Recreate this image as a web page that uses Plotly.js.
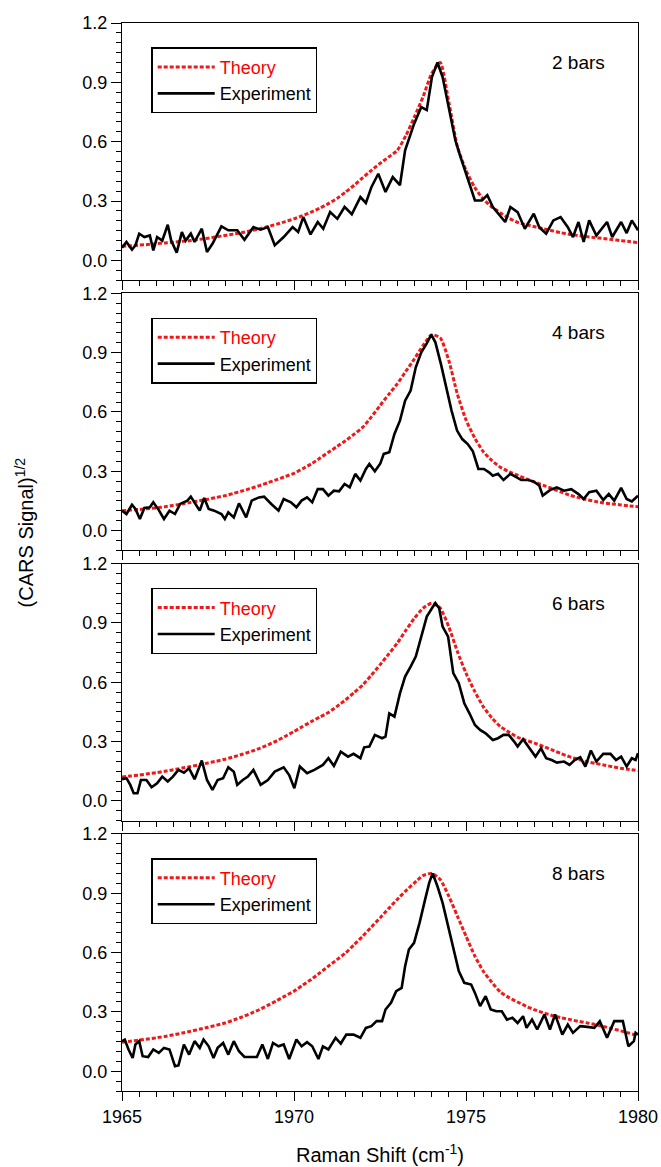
<!DOCTYPE html>
<html>
<head>
<meta charset="utf-8">
<script src="https://cdn.plot.ly/plotly-3.0.1.min.js"></script>
<style>html,body{margin:0;padding:0;background:#fff;}#chart{width:661px;height:1167px;}</style>
</head>
<body>
<div id="chart"></div>
<script>
// ---------- data ----------
const panelLabels = ['2 bars', '4 bars', '6 bars', '8 bars'];
const xTickVals = [1965, 1970, 1975, 1980];

// theory curves on a 0.25 cm-1 grid, 1965 .. 1980
const theoryX = [1965,1965.25,1965.5,1965.75,1966,1966.25,1966.5,1966.75,1967,1967.25,1967.5,1967.75,1968,1968.25,1968.5,1968.75,1969,1969.25,1969.5,1969.75,1970,1970.25,1970.5,1970.75,1971,1971.25,1971.5,1971.75,1972,1972.25,1972.5,1972.75,1973,1973.25,1973.5,1973.75,1974,1974.25,1974.5,1974.75,1975,1975.25,1975.5,1975.75,1976,1976.25,1976.5,1976.75,1977,1977.25,1977.5,1977.75,1978,1978.25,1978.5,1978.75,1979,1979.25,1979.5,1979.75,1980];
const theory2bar = [0.071,0.074,0.077,0.080,0.084,0.088,0.092,0.096,0.100,0.106,0.112,0.119,0.126,0.133,0.141,0.150,0.160,0.171,0.183,0.196,0.210,0.226,0.244,0.264,0.287,0.313,0.345,0.380,0.418,0.455,0.490,0.522,0.556,0.630,0.725,0.826,0.944,1.000,0.800,0.575,0.455,0.370,0.310,0.270,0.240,0.213,0.192,0.180,0.170,0.160,0.150,0.140,0.132,0.126,0.120,0.115,0.110,0.105,0.100,0.095,0.090];
const theory4bar = [0.101,0.104,0.107,0.111,0.115,0.121,0.128,0.135,0.143,0.151,0.159,0.168,0.177,0.189,0.201,0.214,0.228,0.243,0.258,0.274,0.290,0.313,0.337,0.366,0.396,0.425,0.455,0.488,0.523,0.575,0.632,0.688,0.742,0.805,0.868,0.935,0.990,0.975,0.860,0.690,0.560,0.470,0.400,0.355,0.320,0.298,0.280,0.262,0.245,0.229,0.213,0.196,0.180,0.168,0.157,0.148,0.140,0.135,0.130,0.125,0.121];
const theory6bar = [0.121,0.126,0.131,0.137,0.143,0.150,0.158,0.166,0.174,0.183,0.192,0.201,0.211,0.223,0.236,0.250,0.266,0.284,0.304,0.327,0.351,0.376,0.401,0.424,0.447,0.478,0.511,0.548,0.587,0.636,0.688,0.742,0.797,0.862,0.924,0.974,1.000,0.975,0.880,0.755,0.646,0.555,0.477,0.420,0.376,0.348,0.322,0.306,0.292,0.275,0.258,0.240,0.224,0.211,0.199,0.190,0.182,0.173,0.165,0.159,0.153];
const theory8bar = [0.147,0.152,0.157,0.163,0.169,0.176,0.184,0.193,0.202,0.212,0.222,0.233,0.244,0.259,0.275,0.293,0.312,0.334,0.357,0.381,0.405,0.434,0.464,0.497,0.531,0.564,0.598,0.640,0.683,0.729,0.775,0.822,0.868,0.912,0.952,0.989,1.000,0.969,0.885,0.784,0.683,0.585,0.506,0.450,0.400,0.372,0.350,0.328,0.310,0.295,0.282,0.271,0.262,0.253,0.245,0.236,0.226,0.215,0.204,0.192,0.180];

// experiment traces
const exp2barX = [1965.00,1965.13,1965.29,1965.39,1965.50,1965.65,1965.81,1965.91,1966.02,1966.17,1966.33,1966.43,1966.59,1966.74,1966.85,1967.00,1967.11,1967.32,1967.47,1967.63,1967.89,1968.09,1968.35,1968.56,1968.82,1969.03,1969.24,1969.44,1969.70,1969.96,1970.12,1970.27,1970.48,1970.69,1970.85,1971.05,1971.26,1971.47,1971.68,1971.93,1972.09,1972.25,1972.45,1972.66,1972.87,1973.08,1973.23,1973.49,1973.70,1973.86,1974.01,1974.17,1974.32,1974.53,1974.69,1974.84,1975.00,1975.15,1975.26,1975.46,1975.62,1975.78,1975.93,1976.14,1976.29,1976.50,1976.71,1976.97,1977.13,1977.33,1977.54,1977.75,1977.96,1978.11,1978.27,1978.42,1978.58,1978.79,1979.10,1979.25,1979.51,1979.67,1979.82,1980.00];
const exp2barY = [0.064,0.093,0.054,0.076,0.135,0.118,0.126,0.050,0.118,0.100,0.180,0.100,0.039,0.143,0.100,0.135,0.093,0.160,0.042,0.084,0.172,0.152,0.152,0.104,0.168,0.155,0.168,0.076,0.118,0.168,0.143,0.219,0.131,0.194,0.160,0.244,0.210,0.270,0.233,0.320,0.290,0.370,0.438,0.346,0.421,0.380,0.556,0.690,0.775,0.760,0.927,1.000,0.927,0.740,0.607,0.523,0.438,0.370,0.303,0.303,0.330,0.270,0.236,0.194,0.270,0.244,0.160,0.236,0.168,0.135,0.202,0.219,0.168,0.118,0.194,0.093,0.202,0.126,0.194,0.118,0.194,0.138,0.202,0.152];

const exp4barX = [1965.00,1965.13,1965.29,1965.39,1965.52,1965.65,1965.81,1965.91,1966.07,1966.22,1966.38,1966.54,1966.69,1966.90,1967.00,1967.16,1967.26,1967.39,1967.52,1967.68,1967.89,1967.99,1968.09,1968.25,1968.40,1968.61,1968.77,1968.98,1969.13,1969.34,1969.55,1969.70,1969.91,1970.07,1970.22,1970.38,1970.53,1970.69,1970.84,1971.00,1971.16,1971.31,1971.47,1971.62,1971.78,1971.93,1972.09,1972.19,1972.35,1972.51,1972.61,1972.77,1972.92,1973.08,1973.23,1973.39,1973.54,1973.70,1973.86,1973.99,1974.11,1974.27,1974.43,1974.58,1974.74,1974.89,1975.05,1975.20,1975.36,1975.52,1975.67,1975.78,1975.93,1976.09,1976.29,1976.45,1976.61,1976.81,1976.97,1977.13,1977.23,1977.44,1977.64,1977.85,1978.06,1978.27,1978.42,1978.58,1978.79,1978.99,1979.15,1979.31,1979.51,1979.67,1979.82,1980.00];
const exp4barY = [0.101,0.084,0.131,0.110,0.059,0.115,0.118,0.143,0.104,0.059,0.101,0.084,0.135,0.152,0.172,0.131,0.101,0.165,0.110,0.101,0.084,0.059,0.093,0.067,0.138,0.067,0.152,0.168,0.172,0.135,0.101,0.160,0.143,0.118,0.152,0.168,0.143,0.210,0.210,0.177,0.202,0.199,0.236,0.219,0.287,0.253,0.312,0.337,0.300,0.340,0.388,0.396,0.489,0.556,0.657,0.708,0.826,0.902,0.947,0.991,0.952,0.843,0.725,0.607,0.506,0.463,0.438,0.401,0.312,0.312,0.295,0.278,0.287,0.256,0.287,0.270,0.256,0.256,0.248,0.228,0.177,0.205,0.219,0.202,0.210,0.185,0.160,0.194,0.202,0.155,0.185,0.152,0.216,0.160,0.148,0.177];

const exp6barX = [1965.00,1965.13,1965.24,1965.34,1965.45,1965.55,1965.71,1965.86,1966.02,1966.17,1966.33,1966.48,1966.64,1966.80,1966.95,1967.11,1967.32,1967.47,1967.63,1967.78,1967.94,1968.09,1968.25,1968.35,1968.51,1968.66,1968.82,1969.03,1969.24,1969.44,1969.70,1969.86,1970.01,1970.17,1970.38,1970.59,1970.84,1971.00,1971.16,1971.36,1971.57,1971.73,1971.93,1972.04,1972.19,1972.35,1972.56,1972.66,1972.77,1972.92,1973.08,1973.23,1973.39,1973.54,1973.70,1973.86,1974.01,1974.11,1974.22,1974.32,1974.48,1974.63,1974.79,1974.95,1975.10,1975.26,1975.41,1975.57,1975.78,1975.93,1976.09,1976.24,1976.40,1976.50,1976.66,1976.81,1977.02,1977.18,1977.33,1977.49,1977.64,1977.85,1978.01,1978.16,1978.32,1978.47,1978.63,1978.79,1978.99,1979.20,1979.36,1979.51,1979.67,1979.82,1979.93,1980.00];
const exp6barY = [0.110,0.115,0.081,0.039,0.039,0.106,0.106,0.069,0.089,0.123,0.098,0.123,0.157,0.143,0.165,0.110,0.204,0.106,0.056,0.106,0.115,0.170,0.148,0.081,0.106,0.123,0.157,0.081,0.106,0.148,0.170,0.131,0.064,0.174,0.140,0.157,0.182,0.216,0.177,0.249,0.224,0.238,0.216,0.271,0.275,0.334,0.317,0.325,0.443,0.426,0.544,0.629,0.679,0.730,0.831,0.932,0.974,1.000,0.974,0.881,0.831,0.646,0.595,0.494,0.443,0.384,0.359,0.342,0.308,0.317,0.334,0.334,0.300,0.275,0.312,0.275,0.224,0.266,0.216,0.207,0.194,0.199,0.182,0.207,0.221,0.174,0.255,0.199,0.238,0.238,0.207,0.224,0.174,0.216,0.207,0.241];

const exp8barX = [1965.00,1965.08,1965.19,1965.31,1965.39,1965.50,1965.60,1965.76,1965.91,1966.07,1966.22,1966.38,1966.54,1966.64,1966.80,1966.95,1967.11,1967.26,1967.37,1967.52,1967.66,1967.78,1967.94,1968.09,1968.25,1968.40,1968.56,1968.72,1968.92,1969.08,1969.24,1969.39,1969.55,1969.70,1969.86,1970.07,1970.22,1970.38,1970.53,1970.71,1970.84,1971.00,1971.21,1971.36,1971.52,1971.73,1971.93,1972.09,1972.25,1972.40,1972.56,1972.66,1972.82,1972.97,1973.13,1973.23,1973.34,1973.49,1973.65,1973.80,1973.93,1974.03,1974.17,1974.32,1974.48,1974.63,1974.79,1974.95,1975.15,1975.26,1975.41,1975.57,1975.72,1975.88,1976.04,1976.19,1976.35,1976.50,1976.66,1976.76,1976.92,1977.07,1977.28,1977.44,1977.59,1977.80,1977.96,1978.11,1978.32,1978.53,1978.73,1978.89,1979.10,1979.31,1979.56,1979.72,1979.88,1979.93,1980.00];
const exp8barY = [0.152,0.160,0.110,0.067,0.135,0.152,0.076,0.072,0.110,0.093,0.118,0.110,0.025,0.029,0.135,0.084,0.152,0.118,0.160,0.126,0.067,0.118,0.143,0.084,0.152,0.101,0.072,0.072,0.072,0.135,0.062,0.143,0.126,0.135,0.062,0.160,0.126,0.147,0.126,0.062,0.126,0.110,0.169,0.140,0.185,0.185,0.169,0.219,0.228,0.253,0.253,0.312,0.346,0.405,0.421,0.531,0.615,0.649,0.750,0.860,0.952,1.000,0.935,0.851,0.733,0.632,0.506,0.447,0.438,0.396,0.329,0.379,0.312,0.303,0.303,0.261,0.270,0.244,0.278,0.219,0.261,0.211,0.287,0.211,0.287,0.185,0.236,0.194,0.228,0.224,0.219,0.253,0.169,0.253,0.253,0.126,0.152,0.194,0.185];

// ---------- build ----------
const FONT = 'Liberation Sans, Arial, Helvetica, sans-serif';
const theorySets = [theory2bar, theory4bar, theory6bar, theory8bar];
const expX = [exp2barX, exp4barX, exp6barX, exp8barX];
const expY = [exp2barY, exp4barY, exp6barY, exp8barY];

const gap = 0.0123;
const h = (1 - 3 * gap) / 4;
const traces = [];
const layout = {
  width: 661, height: 1167,
  margin: {l: 122, r: 23, t: 23, b: 76},
  paper_bgcolor: '#ffffff', plot_bgcolor: '#ffffff',
  font: {family: FONT, size: 18, color: '#000'},
  showlegend: true,
  annotations: [],
};

for (let i = 0; i < 4; i++) {
  const n = i === 0 ? '' : String(i + 1);
  const legName = 'legend' + n;
  traces.push({
    x: theoryX, y: theorySets[i], xaxis: 'x' + n, yaxis: 'y' + n,
    type: 'scatter', mode: 'lines', name: '<span style="color:#ff0000">Theory</span>',
    line: {color: '#f01818', width: 3, dash: '4px,2px', shape: 'spline', smoothing: 0.6},
    legend: legName,
  });
  traces.push({
    x: expX[i], y: expY[i], xaxis: 'x' + n, yaxis: 'y' + n,
    type: 'scatter', mode: 'lines', name: 'Experiment',
    line: {color: '#000000', width: 2.6},
    legend: legName,
  });
  const top = 1 - i * (h + gap);
  const bottom = top - h;
  layout['xaxis' + n] = {
    domain: [0, 1], anchor: 'y' + n, range: [1965, 1980],
    tickvals: xTickVals, ticks: 'outside', ticklen: 9, tickwidth: 1, tickcolor: '#000',
    minor: {dtick: 0.5, tick0: 1965, ticks: 'outside', ticklen: 5, tickwidth: 1, tickcolor: '#000'},
    showticklabels: i === 3, tickfont: {size: 18, family: FONT},
    showline: true, linecolor: '#000', linewidth: 1, mirror: true,
    showgrid: false, zeroline: false, fixedrange: true,
  };
  layout['yaxis' + n] = {
    domain: [bottom, top], anchor: 'x' + n, range: [-0.1, 1.2],
    tick0: 0, dtick: 0.3, tickformat: '.1f', ticks: 'outside', ticklen: 10, tickwidth: 1, tickcolor: '#000',
    minor: {dtick: 0.05, tick0: 0, ticks: 'outside', ticklen: 5, tickwidth: 1, tickcolor: '#000'},
    tickfont: {size: 18, family: FONT},
    showline: true, linecolor: '#000', linewidth: 1, mirror: true,
    showgrid: false, zeroline: false, fixedrange: true,
  };
  layout[legName] = {
    x: 0.057, xanchor: 'left', y: top - 0.0229, yanchor: 'top',
    bgcolor: '#ffffff', bordercolor: '#000', borderwidth: 1.3,
    font: {size: 18, family: FONT, color: '#000'},
    itemwidth: 57, tracegroupgap: 0,
  };
  layout.annotations.push({
    xref: 'x' + n, yref: 'y' + n, x: 1979.1, y: 1.0, xanchor: 'right', yanchor: 'middle',
    text: panelLabels[i], showarrow: false, font: {size: 19, family: FONT, color: '#000'},
  });
}
layout.xaxis4.title = {text: 'Raman Shift (cm<sup>-1</sup>)', font: {size: 20, family: FONT}, standoff: 22};
layout.annotations.push({
  xref: 'paper', yref: 'paper', x: -0.19, y: 0.523, xanchor: 'center', yanchor: 'middle',
  textangle: -90, text: '(CARS Signal)<sup>1/2</sup>', showarrow: false,
  font: {size: 20, family: FONT, color: '#000'},
});

Plotly.newPlot('chart', traces, layout, {displayModeBar: false, staticPlot: true});
</script>
</body>
</html>
